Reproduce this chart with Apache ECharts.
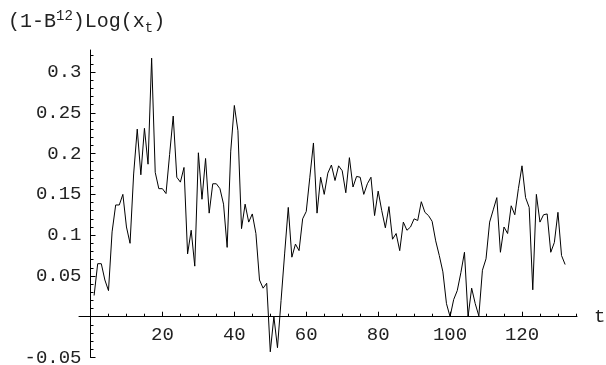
<!DOCTYPE html>
<html><head><meta charset="utf-8">
<script src="https://cdn.jsdelivr.net/npm/echarts@6/dist/echarts.min.js"></script>
<style>html,body{margin:0;padding:0;background:#fff}#c{width:606px;height:365px}</style>
</head><body><div id="c"></div>
<script>
// series values for t = 1..132
const values = [
  0.026, 0.065, 0.065, 0.045, 0.032, 0.104, 0.137, 0.137, 0.150, 0.110,
  0.090, 0.175, 0.230, 0.174, 0.231, 0.187, 0.317, 0.177, 0.157, 0.157,
  0.151, 0.199, 0.246, 0.171, 0.165, 0.183, 0.077, 0.106, 0.062, 0.201,
  0.144, 0.194, 0.127, 0.163, 0.163, 0.157, 0.138, 0.085, 0.203, 0.259,
  0.228, 0.108, 0.138, 0.116, 0.126, 0.102, 0.045, 0.035, 0.041, -0.043,
  0.000, -0.038, 0.020, 0.078, 0.134, 0.073, 0.089, 0.081, 0.120, 0.129,
  0.171, 0.213, 0.127, 0.171, 0.150, 0.176, 0.186, 0.167, 0.185, 0.179,
  0.152, 0.195, 0.159, 0.172, 0.171, 0.150, 0.163, 0.171, 0.124, 0.154,
  0.130, 0.109, 0.135, 0.095, 0.102, 0.081, 0.116, 0.106, 0.110, 0.120,
  0.118, 0.141, 0.128, 0.124, 0.117, 0.093, 0.075, 0.055, 0.016, 0.000,
  0.021, 0.032, 0.054, 0.079, 0.000, 0.035, 0.016, 0.001, 0.057, 0.071,
  0.116, 0.131, 0.146, 0.079, 0.110, 0.102, 0.136, 0.125, 0.157, 0.185,
  0.146, 0.134, 0.033, 0.150, 0.116, 0.125, 0.126, 0.079, 0.091, 0.128,
  0.075, 0.064
];
const firstT = 1;
const xLabelTicks = [20, 40, 60, 80, 100, 120];
const xMinorTicks = [5, 10, 15, 20, 25, 30, 35, 40, 45, 50, 55, 60, 65, 70, 75, 80, 85, 90, 95, 100, 105, 110, 115, 120, 125, 130, 135];
const yLabelTicks = [-0.05, 0.05, 0.1, 0.15, 0.2, 0.25, 0.3];
const yMinorTicks = [-0.04, -0.03, -0.02, -0.01, 0.01, 0.02, 0.03, 0.04, 0.06, 0.07, 0.08, 0.09,
  0.11, 0.12, 0.13, 0.14, 0.16, 0.17, 0.18, 0.19, 0.21, 0.22, 0.23, 0.24, 0.26, 0.27, 0.28, 0.29, 0.31, 0.32];
const xName = 't';

const FONT = "'Liberation Mono', 'DejaVu Sans Mono', monospace";
const FS = 19;
const XMIN = -3.2, XMAX = 135.3, YMIN = -0.05, YMAX = 0.327;
const W = 606, H = 365;
const G = {left: 79, right: 29, top: 50, bottom: 7.5};
const gridW = W - G.left - G.right, gridH = H - G.top - G.bottom;
// shift the axes so they cross at the origin (layout only)
const xAxisOffset = -((0 - YMIN) / (YMAX - YMIN)) * gridH;
const yAxisOffset = -((0 - XMIN) / (XMAX - XMIN)) * gridW;

const chart = echarts.init(document.getElementById('c'), null, {renderer: 'canvas'});
const data = values.map((v, i) => [firstT + i, v]);

function xAxisBase() {
  return {type: 'value', min: XMIN, max: XMAX, position: 'bottom', offset: xAxisOffset,
    splitLine: {show: false}};
}
function yAxisBase() {
  return {type: 'value', min: YMIN, max: YMAX, position: 'left', offset: yAxisOffset,
    splitLine: {show: false}};
}

chart.setOption({
  animation: false,
  backgroundColor: '#fff',
  title: {
    left: 8, top: 9, padding: 0,
    text: '{a|(1-B}{sup|12}{a|)Log(x}{sub|t}{a|)}',
    textStyle: {
      fontWeight: 'normal',
      rich: {
        a: {fontFamily: FONT, fontSize: 20, fontWeight: 'normal', lineHeight: 26, color: '#222'},
        sup: {fontFamily: FONT, fontSize: 14, fontWeight: 'normal', lineHeight: 14, verticalAlign: 'top', color: '#222'},
        sub: {fontFamily: FONT, fontSize: 14, fontWeight: 'normal', lineHeight: 14, verticalAlign: 'bottom', color: '#222'}
      }
    }
  },
  grid: Object.assign({containLabel: false, outerBoundsMode: 'none'}, G),
  xAxis: [
    Object.assign(xAxisBase(), {
      name: xName, nameLocation: 'end', nameGap: 17,
      nameTextStyle: {fontFamily: FONT, fontSize: FS, color: '#222', align: 'left', verticalAlign: 'middle'},
      axisLine: {show: true, onZero: false, lineStyle: {color: '#000', width: 1}},
      axisTick: {show: true, inside: true, length: 5, customValues: xLabelTicks, lineStyle: {color: '#000', width: 1}},
      axisLabel: {show: true, customValues: xLabelTicks, margin: 9, fontFamily: FONT, fontSize: FS, color: '#222'}
    }),
    Object.assign(xAxisBase(), {
      axisLine: {show: true, onZero: false, lineStyle: {color: 'rgba(0,0,0,0)'}},
      axisTick: {show: true, inside: true, length: 3, customValues: xMinorTicks, lineStyle: {color: '#000', width: 1}},
      axisLabel: {show: false}
    })
  ],
  yAxis: [
    Object.assign(yAxisBase(), {
      axisLine: {show: true, onZero: false, lineStyle: {color: '#000', width: 1}},
      axisTick: {show: true, inside: true, length: 5, customValues: yLabelTicks, lineStyle: {color: '#000', width: 1}},
      axisLabel: {show: true, customValues: yLabelTicks, margin: 9, fontFamily: FONT, fontSize: FS, color: '#222',
        formatter: v => String(v)}
    }),
    Object.assign(yAxisBase(), {
      axisLine: {show: true, onZero: false, lineStyle: {color: 'rgba(0,0,0,0)'}},
      axisTick: {show: true, inside: true, length: 3, customValues: yMinorTicks, lineStyle: {color: '#000', width: 1}},
      axisLabel: {show: false}
    })
  ],
  series: [{
    type: 'line', xAxisIndex: 0, yAxisIndex: 0,
    data: data, showSymbol: false, symbol: 'none',
    lineStyle: {color: '#000', width: 1}, clip: false
  }]
});
</script></body></html>
